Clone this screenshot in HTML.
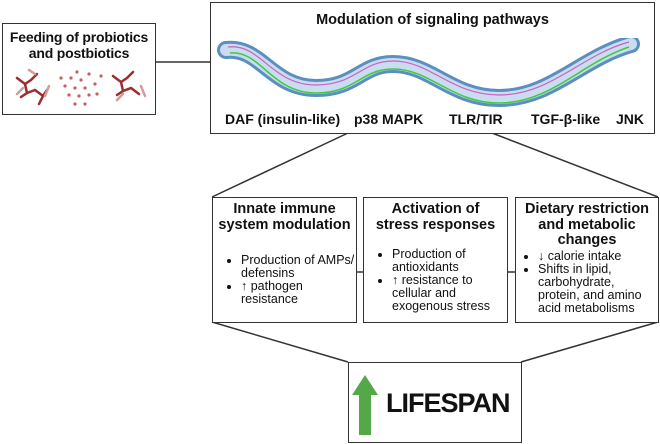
<!DOCTYPE html>
<html><head><meta charset="utf-8"><style>
body{margin:0;width:660px;height:444px;background:#fff;position:relative;overflow:hidden;font-family:"Liberation Sans",Arial,sans-serif;color:#111}
.b{position:absolute;border:1.5px solid #333;box-sizing:border-box;background:#fff}
.t{font-weight:bold;text-align:center;font-size:14.5px;line-height:15.5px;white-space:nowrap}
ul{margin:0;padding:0 0 0 28px;font-size:12.5px;line-height:13px}
li{margin:0}
</style></head><body>
<svg style="position:absolute;left:0;top:0" width="660" height="444">
<g stroke="#333" stroke-width="1.5" fill="none">
<line x1="155" y1="62" x2="210" y2="62"/>
<line x1="348" y1="133" x2="212" y2="197"/>
<line x1="492" y1="133" x2="658" y2="197"/>
<line x1="212" y1="322" x2="348" y2="362"/>
<line x1="658" y1="322" x2="521" y2="362"/>
<line x1="356" y1="272" x2="363" y2="272"/>
<line x1="507" y1="272" x2="515" y2="272"/>
</g>
</svg>
<div class="b" style="left:2px;top:23px;width:154px;height:92px">
<div class="t" style="margin-top:6px;font-size:14px;letter-spacing:-0.2px">Feeding of probiotics<br>and postbiotics</div>
<svg width="150" height="45" style="position:absolute;left:0;top:40px">
<g stroke="#9b2d2d" stroke-width="2.5" fill="none" stroke-linecap="round">
<path d="M14 14 l8 6 l6 -4 M22 20 l2 9 l-6 4 M24 29 l8 -3 M28 16 l6 -6 M32 26 l8 6 l4 -6 M40 32 l-4 8"/>
<path d="M110 12 l8 6 l6 -4 M118 18 l2 9 l-6 4 M120 27 l8 -3 M124 14 l6 -6 M128 24 l8 6"/>
</g>
<g stroke="#d69a9a" stroke-width="2.5" fill="none" stroke-linecap="round">
<path d="M20 24 l-6 6 M46 22 l-4 10 M120 30 l-6 6 M138 22 l4 10 M26 6 l6 4"/>
</g>
<g fill="#c46060">
<circle cx="74" cy="8" r="1.6"/><circle cx="68" cy="14" r="1.6"/><circle cx="78" cy="16" r="1.6"/><circle cx="86" cy="10" r="1.6"/><circle cx="62" cy="22" r="1.6"/><circle cx="72" cy="24" r="1.6"/><circle cx="82" cy="24" r="1.6"/><circle cx="92" cy="20" r="1.6"/><circle cx="66" cy="31" r="1.6"/><circle cx="76" cy="32" r="1.6"/><circle cx="86" cy="31" r="1.6"/><circle cx="94" cy="30" r="1.6"/><circle cx="72" cy="40" r="1.6"/><circle cx="82" cy="40" r="1.6"/><circle cx="58" cy="14" r="1.6"/><circle cx="98" cy="12" r="1.6"/>
</g>
</svg>
</div>
<div class="b" style="left:210px;top:2px;width:445px;height:132px">
<div class="t" style="margin-top:10px">Modulation of signaling pathways</div>
<svg width="445" height="80" style="position:absolute;left:0;top:35px">
<path d="M15 12 C50 8,60 50,105 50 C145 50,150 26,182 26 C220 26,240 60,288 60 C340 60,370 20,420 6" stroke="#5b8fc0" stroke-width="18" fill="none" stroke-linecap="round"/>
<path d="M15 12 C50 8,60 50,105 50 C145 50,150 26,182 26 C220 26,240 60,288 60 C340 60,370 20,420 6" stroke="#c9dcf0" stroke-width="12" fill="none" stroke-linecap="round"/>
<path d="M17 9 C50 5,60 47,105 47 C145 47,150 23,182 23 C220 23,240 57,288 57 C340 57,370 17,418 4" stroke="#d060c0" stroke-width="1.2" fill="none"/>
<path d="M19 15 C50 12,60 55,105 55 C145 55,150 31,182 31 C220 31,240 65,288 65 C340 65,370 25,418 9" stroke="#3ccc3c" stroke-width="1.5" fill="none"/>
</svg>
<div style="position:absolute;top:108px;left:0;width:445px;font-weight:bold;font-size:14px">
<span style="position:absolute;left:14px">DAF (insulin-like)</span>
<span style="position:absolute;left:143px">p38 MAPK</span>
<span style="position:absolute;left:238px">TLR/TIR</span>
<span style="position:absolute;left:320px">TGF-β-like</span>
<span style="position:absolute;left:405px">JNK</span>
</div>
</div>
<div class="b" style="left:212px;top:197px;width:145px;height:126px">
<div class="t" style="margin-top:4px">Innate immune<br>system modulation</div>
<ul style="margin-top:21px"><li>Production of AMPs/ defensins</li><li>↑ pathogen resistance</li></ul>
</div>
<div class="b" style="left:363px;top:197px;width:145px;height:126px">
<div class="t" style="margin-top:4px">Activation of<br>stress responses</div>
<ul style="margin-top:15px"><li>Production of antioxidants</li><li>↑ resistance to cellular and exogenous stress</li></ul>
</div>
<div class="b" style="left:515px;top:197px;width:144px;height:126px">
<div class="t" style="margin-top:4px">Dietary restriction<br>and metabolic<br>changes</div>
<ul style="margin-top:1px;padding-left:22px"><li>↓ calorie intake</li><li> Shifts in lipid, carbohydrate, protein, and amino acid metabolisms</li></ul>
</div>
<div class="b" style="left:348px;top:362px;width:174px;height:81px">
<svg width="30" height="62" style="position:absolute;left:3px;top:12px"><polygon points="13,0 26,20 19,20 19,60 7,60 7,20 0,20" fill="#55a84a"/></svg>
<div style="position:absolute;left:37px;top:25px;font-weight:bold;font-size:27px;letter-spacing:-1px">LIFESPAN</div>
</div>
</body></html>
